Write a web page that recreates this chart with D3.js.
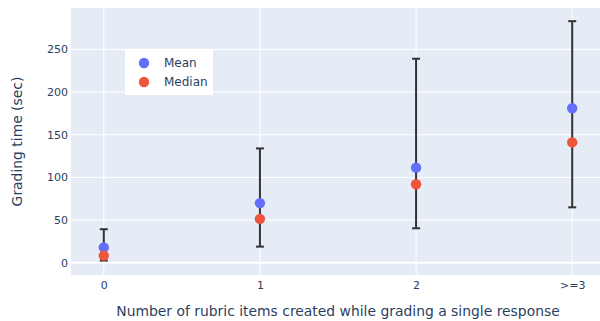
<!DOCTYPE html>
<html>
<head>
<meta charset="utf-8">
<script src="https://cdn.jsdelivr.net/npm/d3@7"></script>
<style>
  html, body { margin: 0; padding: 0; background: #fff; }
  svg { display: block; font-family: "DejaVu Sans", Verdana, sans-serif; }
</style>
</head>
<body>
<svg id="chart" width="600" height="321"></svg>
<script>
// Grading time per number of rubric items created
const categories = ["0", "1", "2", ">=3"];
const meanValues = [18, 70, 111.5, 181];
const medianValues = [8.5, 51.5, 92, 141];
const errLower = [2.7, 19, 40.5, 65];
const errUpper = [39.4, 134, 239, 283];
const yTicks = [0, 50, 100, 150, 200, 250];

const W = 600, H = 321;
const margin = { left: 71, top: 8, right: -5, bottom: 46 };
const plotW = W - margin.left - margin.right;
const plotH = H - margin.top - margin.bottom;

const svg = d3.select("#chart");

const x = d3.scaleLinear().domain([-0.21, 3.21]).range([0, plotW]);
const y = d3.scaleLinear().domain([-14.2, 298.4]).range([plotH, 0]);

const g = svg.append("g").attr("transform", `translate(${margin.left},${margin.top})`);

g.append("rect").attr("width", plotW).attr("height", plotH).attr("fill", "#e5ecf6");

// grid lines
g.selectAll(".ygrid").data(yTicks).join("line")
  .attr("x1", 0).attr("x2", plotW)
  .attr("y1", d => y(d)).attr("y2", d => y(d))
  .attr("stroke", "#fff").attr("stroke-width", d => d === 0 ? 2 : 1);
g.selectAll(".xgrid").data(categories).join("line")
  .attr("x1", (d, i) => x(i)).attr("x2", (d, i) => x(i))
  .attr("y1", 0).attr("y2", plotH)
  .attr("stroke", "#fff").attr("stroke-width", 1);

// axes
const yAxis = d3.axisLeft(y).tickValues(yTicks).tickSize(0).tickPadding(3);
const yg = g.append("g").call(yAxis);
yg.select(".domain").remove();
yg.selectAll("text").attr("fill", "#2a3f5f").style("font-size", "11px")
  .style("font-family", '"DejaVu Sans", Verdana, sans-serif');

const xAxis = d3.axisBottom(x).tickValues(d3.range(categories.length))
  .tickFormat(i => categories[i]).tickSize(0).tickPadding(6);
const xg = g.append("g").attr("transform", `translate(0,${plotH})`).call(xAxis);
xg.select(".domain").remove();
xg.selectAll("text").attr("fill", "#2a3f5f").style("font-size", "11px")
  .style("font-family", '"DejaVu Sans", Verdana, sans-serif');

// error bars
const eb = g.append("g").attr("stroke", "#333").attr("stroke-width", 2);
categories.forEach((c, i) => {
  const cx = x(i);
  eb.append("line").attr("x1", cx).attr("x2", cx).attr("y1", y(errLower[i])).attr("y2", y(errUpper[i]));
  eb.append("line").attr("x1", cx - 4).attr("x2", cx + 4).attr("y1", y(errLower[i])).attr("y2", y(errLower[i]));
  eb.append("line").attr("x1", cx - 4).attr("x2", cx + 4).attr("y1", y(errUpper[i])).attr("y2", y(errUpper[i]));
});

// markers
g.selectAll(".mean").data(meanValues).join("circle")
  .attr("cx", (d, i) => x(i)).attr("cy", d => y(d)).attr("r", 5.2).attr("fill", "#636efa");
g.selectAll(".median").data(medianValues).join("circle")
  .attr("cx", (d, i) => x(i)).attr("cy", d => y(d)).attr("r", 5.2).attr("fill", "#EF553B");

// legend
const lg = svg.append("g").attr("transform", "translate(125,49)");
lg.append("rect").attr("width", 88).attr("height", 46).attr("fill", "#fff");
[["Mean", "#636efa"], ["Median", "#EF553B"]].forEach(([name, col], i) => {
  lg.append("circle").attr("cx", 19).attr("cy", 14 + i * 19).attr("r", 5.2).attr("fill", col);
  lg.append("text").attr("x", 39).attr("y", 14 + i * 19).attr("dy", "0.35em")
    .attr("fill", "#2a3f5f").style("font-size", "12px").text(name);
});

// axis titles
svg.append("text").attr("x", margin.left + plotW / 2).attr("y", 316)
  .attr("text-anchor", "middle").attr("fill", "#2a3f5f").style("font-size", "13.9px")
  .text("Number of rubric items created while grading a single response");
svg.append("text").attr("transform", `translate(22,${margin.top + plotH / 2}) rotate(-90)`)
  .attr("text-anchor", "middle").attr("fill", "#2a3f5f").style("font-size", "13.9px")
  .text("Grading time (sec)");
</script>
</body>
</html>
